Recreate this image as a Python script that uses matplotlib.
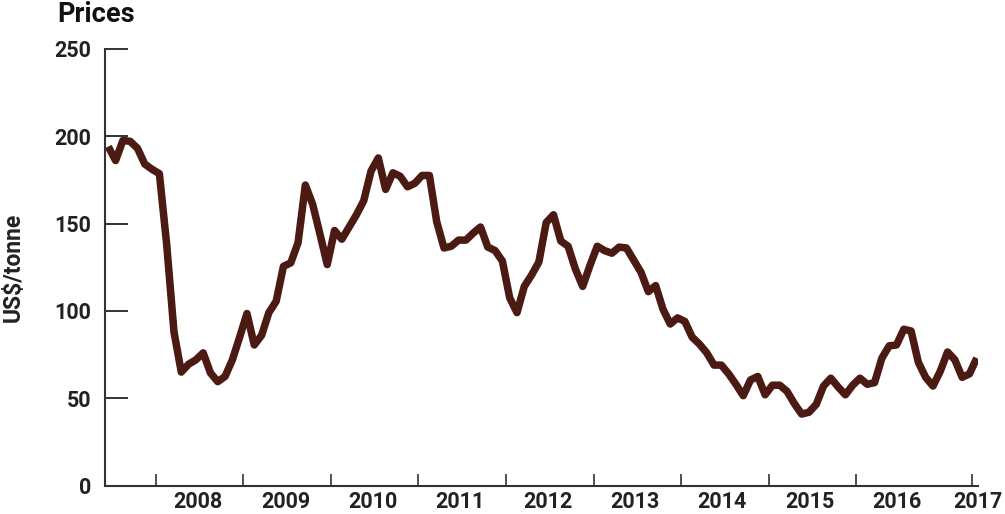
import numpy as np
import matplotlib
matplotlib.use("Agg")
import matplotlib.pyplot as plt

plt.rcParams['font.family'] = ['Roboto', 'DejaVu Sans']

# Monthly prices, Jan 2007 - Dec 2016 (US$/tonne)
prices = [
    194, 186, 197.5, 197, 193, 184, 181, 178.5, 138, 88,
    65, 69.5, 72, 76, 64.5, 59.5, 62.5, 72, 85, 98.5,
    80.5, 86, 99, 105.5, 125.5, 127.5, 139, 172, 161, 144,
    126.5, 146, 141, 148, 155, 163, 180, 187.5, 169.5, 179,
    177, 171, 173, 177.5, 177.5, 151, 136, 137, 140.5, 140.5,
    144.5, 148, 136.5, 134.5, 128.5, 107.5, 99, 114, 120.5, 128,
    150.5, 155, 140, 137, 124, 114, 126, 137, 134.5, 133,
    136.5, 136, 129, 122, 111, 114.5, 101, 92.5, 96, 94,
    85, 81, 76, 69, 69, 64, 58, 51.5, 60.5, 62.5,
    52, 57.5, 57.5, 54, 47, 41, 42, 46.5, 57, 61.5,
    56.5, 52, 57.5, 61.5, 58, 59, 73, 80, 80.5, 89.5,
    88.5, 70.5, 62, 57, 65.5, 76.5, 72, 62, 64, 73,
]
years = ['2008', '2009', '2010', '2011', '2012', '2013', '2014', '2015', '2016', '2017']
yticks = [0, 50, 100, 150, 200, 250]

months = np.arange(len(prices))

W, H = 1005, 514
fig = plt.figure(figsize=(W / 100, H / 100), dpi=100)
ax = fig.add_axes([105 / W, 1 - 485.7 / H, (978.3 - 105) / W, (485.7 - 48.7) / H])

line_col = '#4a1a13'
axis_col = '#333333'
ax.plot(months, prices, color=line_col, lw=5.4, solid_joinstyle='round', solid_capstyle='butt')

ax.set_xlim(-0.452, 119.21)
ax.set_ylim(0, 250)

for s in ['top', 'right']:
    ax.spines[s].set_visible(False)
for s in ['left', 'bottom']:
    ax.spines[s].set_color(axis_col)
    ax.spines[s].set_linewidth(1.5)

# y ticks
ax.set_yticks(yticks)
ax.set_yticklabels([str(v) for v in yticks])
ax.tick_params(axis='y', direction='in', length=16.5, width=1.4, color=axis_col,
               pad=10, labelsize=15.5, labelcolor='#222222')
for lab in ax.get_yticklabels():
    lab.set_fontweight('bold')

# x ticks: marks between years, labels centered
major = [6.5 + 12 * k for k in range(9)] + [118.3]
label_pos = [12.3 + 11.97 * k for k in range(len(years))]
ax.set_xticks(major)
ax.set_xticklabels([''] * len(major))
ax.tick_params(axis='x', which='major', direction='in', length=8.5, width=1.2, color=axis_col)
ticks = ax.xaxis.get_major_ticks()
for t in ticks[:2]:
    t.tick1line.set_color('#5a2418')

for i, (xp, yr) in enumerate(zip(label_pos, years)):
    dx = -4.5 if i == len(years) - 1 else 0
    ax.annotate(yr, xy=(xp, 0), xycoords=('data', 'axes fraction'),
                xytext=(dx, -4), textcoords='offset points',
                ha='center', va='top', fontsize=15.5, fontweight='bold',
                color='#222222', annotation_clip=False)

fig.text(57 / W, 1 - 21.7 / H, 'Prices', fontsize=19.5, fontweight='bold',
         color='#111111', ha='left', va='baseline')
fig.text(13 / W, 1 - 267 / H, 'US$/tonne', fontsize=16.5, fontweight='bold',
         color='#222222', rotation=90, ha='center', va='center')

fig.savefig('out.png', dpi=100)
